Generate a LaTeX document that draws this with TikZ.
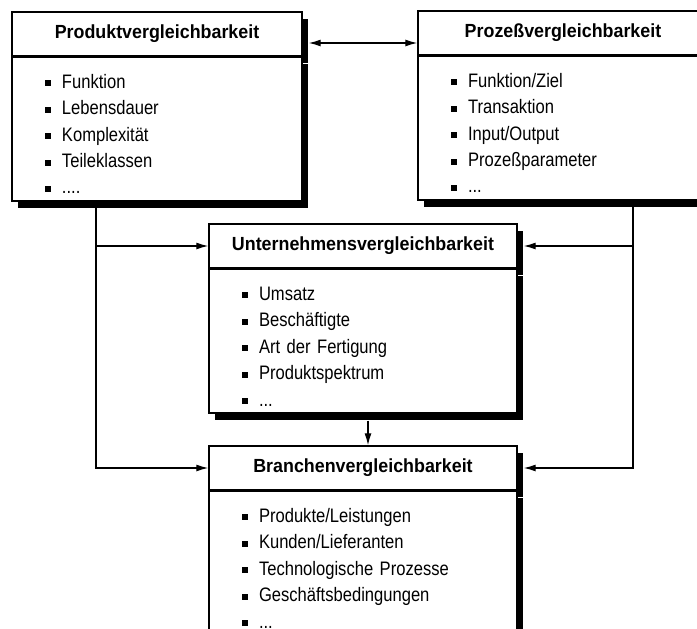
\documentclass[tikz,border=0pt]{standalone}
\usepackage{fontspec}
\setmainfont{Liberation Sans}
\newfontfamily\itemfont{Liberation Sans}[FakeStretch=0.85]
\newfontfamily\titlefont{Liberation Sans}[FakeStretch=0.94]
\usetikzlibrary{arrows.meta, positioning, shadows}

\newcommand{\itm}[1]{\rule[2pt]{6pt}{6pt}\hspace{11pt}#1}

\begin{document}
\begin{tikzpicture}[x=1pt, y=-1pt,
        titlebox/.style={draw, line width=1.4pt, fill=white, minimum width=#1, minimum height=44pt, font=\titlefont\fontsize{19}{21}\selectfont\bfseries, drop shadow={shadow xshift=6pt, shadow yshift=-7pt, fill=black, opacity=1}},
        itembox/.style={draw, line width=1.4pt, fill=white, text width=#1, align=left, inner xsep=33pt, inner ysep=0pt, font=\itemfont\fontsize{19.5}{26.4}\selectfont, execute at begin node={\rule{0pt}{31pt}}, execute at end node={\rule[-7pt]{0pt}{7pt}}, drop shadow={shadow xshift=6pt, shadow yshift=-7pt, fill=black, opacity=1}},
        divider/.style={line width=2.8pt},
        conn/.style={line width=1.3pt, arrows=-{Latex[length=12pt, width=7pt]}},
        dconn/.style={line width=1.3pt, arrows={Latex[length=12pt, width=7pt]}-{Latex[length=12pt, width=7pt]}}
    ]
        \clip (0,0) rectangle (697,629);

        \node[titlebox=290pt] (prod) at (157,34) {Produktvergleichbarkeit};
        \node[itembox=224pt, below=0pt of prod] (prodlist) {\itm{Funktion}\\ \itm{Lebensdauer}\\ \itm{Komplexität}\\ \itm{Teileklassen}\\ \itm{....}};

        \node[titlebox=290pt] (proz) at (563,33) {Prozeßvergleichbarkeit};
        \node[itembox=224pt, below=0pt of proz] (prozlist) {\itm{Funktion/Ziel}\\ \itm{Transaktion}\\ \itm{Input/Output}\\ \itm{Prozeßparameter}\\ \itm{...}};

        \node[titlebox=308pt] (unt) at (363,246) {Unternehmensvergleichbarkeit};
        \node[itembox=242pt, below=0pt of unt] (untlist) {\itm{Umsatz}\\ \itm{Beschäftigte}\\ \itm{Art der Fertigung}\\ \itm{Produktspektrum}\\ \itm{...}};

        \node[titlebox=308pt] (bra) at (363,468) {Branchenvergleichbarkeit};
        \node[itembox=242pt, below=0pt of bra] (bralist) {\itm{Produkte/Leistungen}\\ \itm{Kunden/Lieferanten}\\ \itm{Technologische Prozesse}\\ \itm{Geschäftsbedingungen}\\ \itm{...}};

        \foreach \n in {prod, proz, unt, bra}
            \draw[divider] (\n.south west) -- (\n.south east);

        \coordinate (ltop) at (96,206);
        \coordinate (rtop) at (633,206);

        \draw[dconn] ([xshift=6pt, yshift=-9pt]prod.east) -- ([yshift=-9pt]prod.east -| proz.west);
        \draw[conn] (ltop) |- (bra.west);
        \draw[conn] (ltop |- unt.west) -- (unt.west);
        \draw[conn] (rtop) |- ([xshift=6pt]bra.east);
        \draw[conn] (rtop |- unt.east) -- ([xshift=6pt]unt.east);
        \draw[conn] ([xshift=5pt, yshift=-7pt]untlist.south) -- ([xshift=5pt]bra.north);
    \end{tikzpicture}
\end{document}
